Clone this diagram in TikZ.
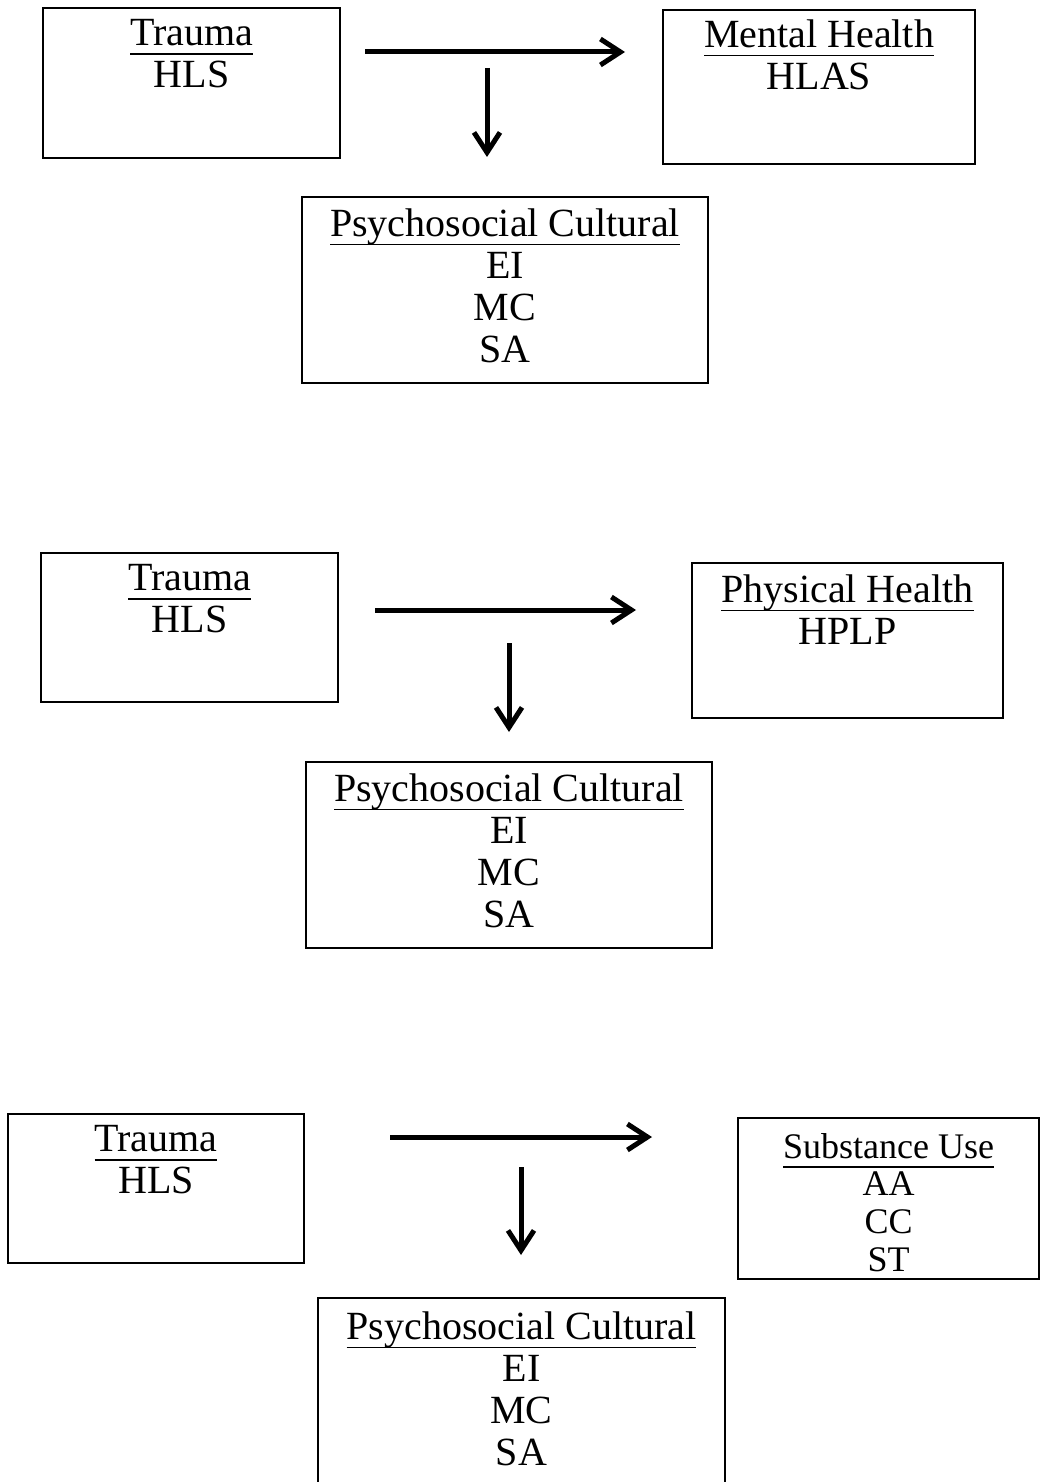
\documentclass[tikz,border=0pt]{standalone}
\usepackage{fontspec}
\setmainfont{Liberation Serif}
\usetikzlibrary{arrows.meta}
\newcommand{\hdline}[1]{\setbox0\hbox{#1}\leavevmode\rlap{\rule[-4.6pt]{\wd0}{0.9pt}}\box0}
\begin{document}
\begin{tikzpicture}[x=0.5pt,y=-0.5pt]
    \tikzstyle{box}=[rectangle,draw=black,line width=1pt,inner sep=0pt]
    \tikzstyle{boxtext}=[anchor=north,align=center,inner sep=0pt,font=\fontsize{20}{21}\selectfont]
    \tikzstyle{link}=[line width=2.5pt,-{Straight Barb[length=10pt,width=13pt]}]
    \useasboundingbox (0,0) rectangle (1042,1482);
    \clip (0,0) rectangle (1042,1482);

    % mental health
    \node[box, minimum width=148.5pt, minimum height=75pt] (traumaA) at (191.5,83) {};
    \node[boxtext] (traumaAtxt) at ([yshift=-6pt]traumaA.north) {\hdline{Trauma}\\HLS};
    \node[box, minimum width=156pt, minimum height=77pt] (mental) at (819,87) {};
    \node[boxtext] (mentaltxt) at ([yshift=-5pt]mental.north) {\hdline{Mental Health}\\HLAS};
    \node[box, minimum width=203pt, minimum height=93pt] (psychA) at (505,290) {};
    \node[boxtext] (psychAtxt) at ([yshift=-6pt]psychA.north) {\hdline{Psychosocial Cultural}\\EI\\MC\\SA};
    \coordinate (hA1) at (365,52);
    \coordinate (hA2) at (625,52);
    \coordinate (vA1) at (487,68);
    \coordinate (vA2) at (487,157);
    \draw[link] (hA1) -- (hA2);
    \draw[link] (vA1) -- (vA2);

    % physical health
    \node[box, minimum width=148.5pt, minimum height=74.5pt] (traumaB) at (189.5,627.5) {};
    \node[boxtext] (traumaBtxt) at ([yshift=-6pt]traumaB.north) {\hdline{Trauma}\\HLS};
    \node[box, minimum width=155.5pt, minimum height=77.5pt] (physical) at (847.5,640.5) {};
    \node[boxtext] (physicaltxt) at ([yshift=-6pt]physical.north) {\hdline{Physical Health}\\HPLP};
    \node[box, minimum width=203pt, minimum height=93pt] (psychB) at (509,855) {};
    \node[boxtext] (psychBtxt) at ([yshift=-6pt]psychB.north) {\hdline{Psychosocial Cultural}\\EI\\MC\\SA};
    \coordinate (hB1) at (375,610);
    \coordinate (hB2) at (636,610);
    \coordinate (vB1) at (509,643);
    \coordinate (vB2) at (509,732);
    \draw[link] (hB1) -- (hB2);
    \draw[link] (vB1) -- (vB2);

    % substance use
    \node[box, minimum width=148pt, minimum height=74.5pt] (traumaC) at (156,1188.5) {};
    \node[boxtext] (traumaCtxt) at ([yshift=-6pt]traumaC.north) {\hdline{Trauma}\\HLS};
    \node[box, minimum width=150.5pt, minimum height=80.5pt] (substance) at (888.5,1198.5) {};
    \node[boxtext, font=\fontsize{18}{18.8}\selectfont] (substancetxt) at ([yshift=-8pt]substance.north) {\hdline{Substance Use}\\AA\\CC\\ST};
    \node[box, minimum width=203.5pt, minimum height=96pt] (psychC) at (521.5,1394) {};
    \node[boxtext] (psychCtxt) at ([yshift=-7pt]psychC.north) {\hdline{Psychosocial Cultural}\\EI\\MC\\SA};
    \coordinate (hC1) at (390,1137);
    \coordinate (hC2) at (652,1137);
    \coordinate (vC1) at (521,1167);
    \coordinate (vC2) at (521,1255);
    \draw[link] (hC1) -- (hC2);
    \draw[link] (vC1) -- (vC2);

\end{tikzpicture}
\end{document}
